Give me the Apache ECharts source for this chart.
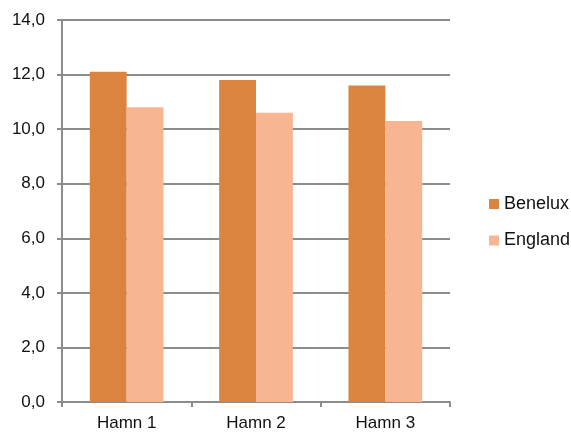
<!DOCTYPE html>
<html>
<head>
<meta charset="utf-8">
<script src="https://cdn.jsdelivr.net/npm/echarts@6/dist/echarts.min.js"></script>
<style>
  html, body { margin: 0; padding: 0; background: #fff; }
  #chart { width: 571px; height: 432px; }
</style>
</head>
<body>
<div id="chart"></div>
<script>
// Hamnar och värden per region
const categories = ['Hamn 1', 'Hamn 2', 'Hamn 3'];
const benelux = [12.1, 11.8, 11.6];
const england = [10.8, 10.6, 10.3];
const yTicks = { min: 0, max: 14, interval: 2 };

const chart = echarts.init(document.getElementById('chart'), null, { renderer: 'canvas' });
const font = 'Liberation Sans, Arial, sans-serif';
const gray = '#8c8c8c';

chart.setOption({
  animation: false,
  textStyle: { fontFamily: font },
  grid: { left: 62, right: 121, top: 20, bottom: 29.5 },
  legend: {
    orient: 'vertical',
    left: 484,
    top: 190,
    itemWidth: 10,
    itemHeight: 10,
    itemGap: 18.5,
    icon: 'rect',
    textStyle: { fontFamily: font, fontSize: 18, color: '#111', lineHeight: 18 },
    data: ['Benelux', 'England']
  },
  xAxis: {
    type: 'category',
    data: categories,
    axisLine: { lineStyle: { color: gray, width: 2 } },
    axisTick: { show: true, length: 5, lineStyle: { color: gray, width: 2 } },
    axisLabel: { fontFamily: font, fontSize: 17, color: '#111', margin: 13 }
  },
  yAxis: {
    type: 'value',
    min: yTicks.min,
    max: yTicks.max,
    interval: yTicks.interval,
    axisLine: { show: true, lineStyle: { color: gray, width: 2 } },
    axisTick: { show: true, length: 5, lineStyle: { color: gray, width: 2 } },
    splitLine: { lineStyle: { color: gray, width: 2 } },
    axisLabel: {
      fontFamily: font, fontSize: 17, color: '#111', margin: 17,
      formatter: v => v.toFixed(1).replace('.', ',')
    }
  },
  series: [
    {
      name: 'Benelux', type: 'bar', data: benelux,
      barGap: '0%', barCategoryGap: '43%',
      itemStyle: { color: '#DA843F' }
    },
    {
      name: 'England', type: 'bar', data: england,
      itemStyle: { color: '#F8B592' }
    }
  ]
});
</script>
</body>
</html>
